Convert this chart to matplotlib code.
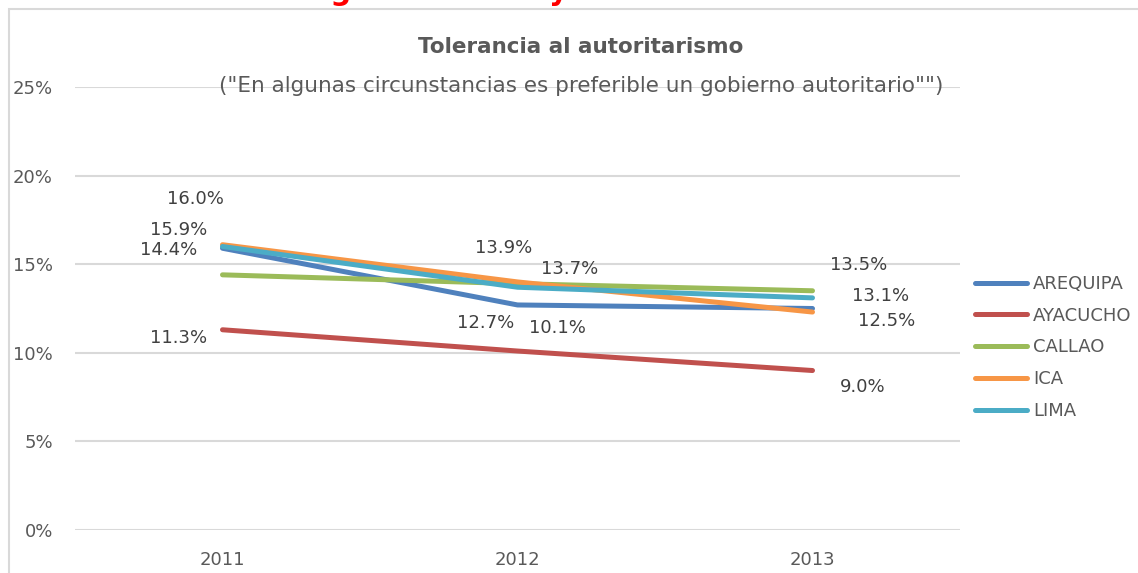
import matplotlib
matplotlib.use('Agg')
import matplotlib.pyplot as plt
from matplotlib.patches import Rectangle

# Data (percent)
years = ['2011', '2012', '2013']
regions = ['AREQUIPA', 'AYACUCHO', 'CALLAO', 'ICA', 'LIMA']
arequipa = [15.9, 12.7, 12.5]
ayacucho = [11.3, 10.1, 9.0]
callao = [14.4, 13.9, 13.5]
ica = [16.1, 14.0, 12.3]
lima = [16.0, 13.7, 13.1]
series = [arequipa, ayacucho, callao, ica, lima]
colors = ['#4F81BD', '#C0504D', '#9BBB59', '#F79646', '#4BACC6']

# Data labels shown on the chart: (series index, year index) -> pixel offset of the label
label_offsets = {
    (4, 0): (-27, 47), (0, 0): (-44, 18), (2, 0): (-54, 25), (1, 0): (-44, -8),
    (2, 1): (-14, 36), (4, 1): (52, 18), (0, 1): (-32, -18), (1, 1): (40, 23),
    (2, 2): (46, 26), (4, 2): (68, 2), (0, 2): (74, -13), (1, 2): (50, -16),
}

W, H = 1138, 573
fig = plt.figure(figsize=(W / 100, H / 100), dpi=100)
fig.patch.set_facecolor('white')

# outer chart frame (cut off on right and bottom)
fig.patches.append(Rectangle((9 / W, -0.1), 1.2, 1 - 9.5 / H + 0.1, transform=fig.transFigure,
                             fill=False, edgecolor='#D9D9D9', linewidth=1.5))

# red heading that is cut off at the top of the picture
fig.text(585 / W, 1 - 0.5 / H, 'Gráfico 3: Regiones de mayor tolerancia al autoritarismo',
         ha='center', va='baseline', color='#FF0000', fontsize=21, fontweight='bold')

ax = fig.add_axes([75 / W, 43 / H, 885 / W, 443 / H])
x = range(len(years))
for name, vals, c in zip(regions, series, colors):
    ax.plot(x, vals, color=c, linewidth=3.6, solid_capstyle='round', label=name)

for (si, yi), (dx, dy) in label_offsets.items():
    v = series[si][yi]
    ax.annotate(f'{v:.1f}%', (yi, v), xytext=(dx, dy), textcoords='offset pixels',
                ha='center', va='center', fontsize=13, color='#404040')

ax.set_xlim(-0.5, 2.5)
ax.set_ylim(0, 25)
ax.set_yticks([0, 5, 10, 15, 20, 25])
ax.set_yticklabels([f'{t}%' for t in [0, 5, 10, 15, 20, 25]])
ax.set_xticks(list(x))
ax.set_xticklabels(years)
ax.tick_params(length=0, labelsize=13, labelcolor='#595959')
ax.tick_params(axis='y', pad=16)
ax.tick_params(axis='x', pad=15)
ax.grid(axis='y', color='#D9D9D9', linewidth=1.5)
ax.set_axisbelow(True)
for s in ax.spines.values():
    s.set_visible(False)

fig.text(581 / W, 1 - 47 / H, 'Tolerancia al autoritarismo', ha='center', va='center',
         fontsize=15.5, fontweight='bold', color='#595959')
fig.text(581 / W, 1 - 86 / H, '("En algunas circunstancias es preferible un gobierno autoritario"")',
         ha='center', va='center', fontsize=15.5, color='#595959')

leg = fig.legend(loc='upper left', bbox_to_anchor=(975 / W, 1 - 275 / H), frameon=False,
                 fontsize=13, handlelength=2.9, handletextpad=0.3, labelspacing=0.76,
                 borderpad=0, borderaxespad=0)
for t in leg.get_texts():
    t.set_color('#595959')

fig.savefig('out.png', dpi=100)
